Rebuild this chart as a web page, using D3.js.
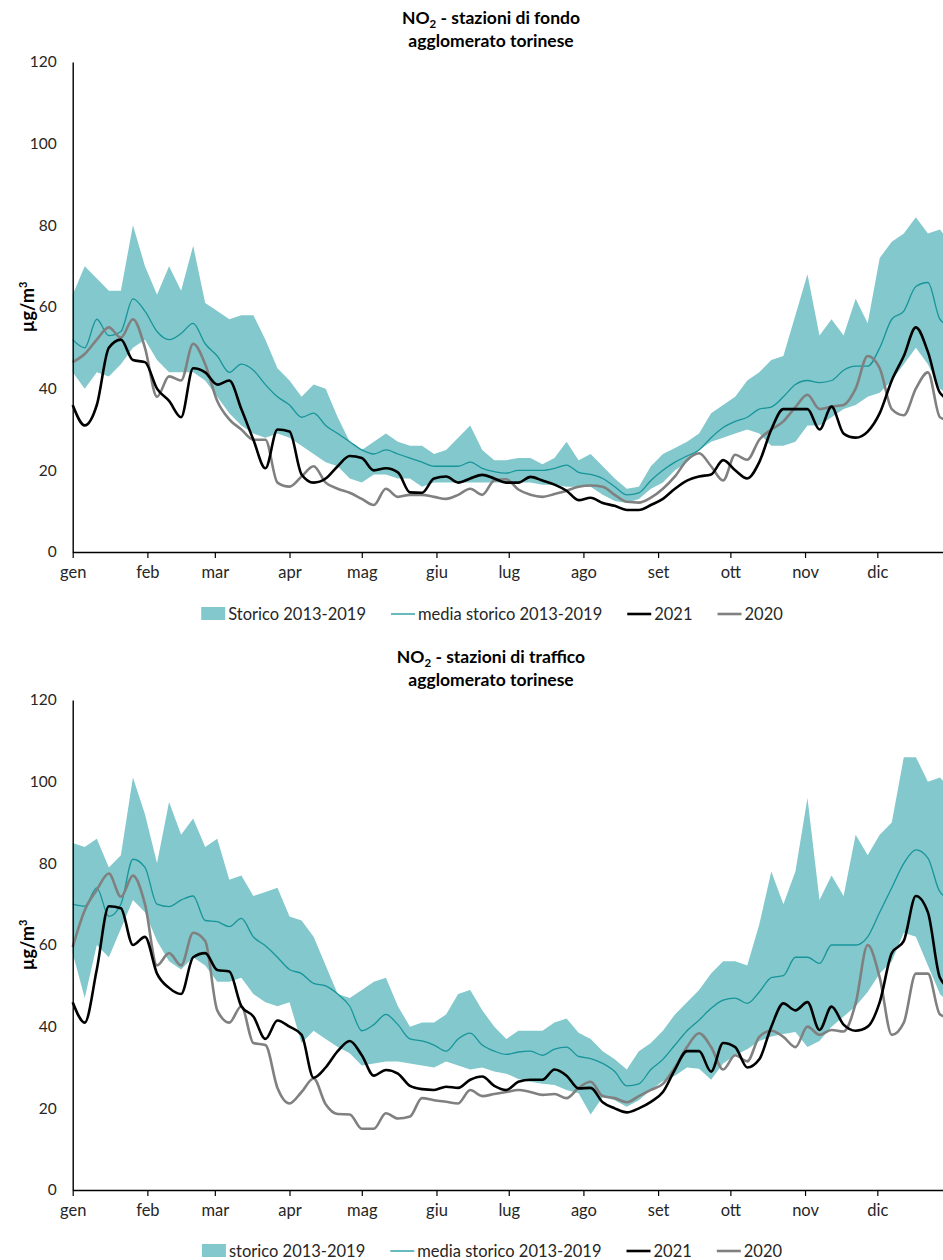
<!DOCTYPE html>
<html>
<head>
<meta charset="utf-8">
<script src="https://cdn.jsdelivr.net/npm/d3@7"></script>
<style>
  body { margin: 0; background: #fff; }
  text { font-family: "Century Gothic", "Lato", sans-serif; }
</style>
</head>
<body>
<div id="chart"></div>
<script>
// day of year, sampled every 5 days
const days = [0,5,10,15,20,25,30,35,40,45,50,55,60,65,70,75,80,85,90,95,
  100,105,110,115,120,125,130,135,140,145,150,155,160,165,170,175,180,185,190,195,
  200,205,210,215,220,225,230,235,240,245,250,255,260,265,270,275,280,285,290,295,
  300,305,310,315,320,325,330,335,340,345,350,355,360,365];

const months = ["gen","feb","mar","apr","mag","giu","lug","ago","set","ott","nov","dic"];
const monthStarts = [0,31,59,90,120,151,181,212,243,273,304,334];
const yTicks = [0,20,40,60,80,100,120];

// ---- stazioni di fondo ----
const fondoHi = [63,70,67,64,64,80,70,63,70,64,75,61,59,57,58,58,52,45,42,38,
  41,40,33,27,25,27,29,27,26,26,24,25,28,31,25,22.5,22.5,23,23,21.5,
  23,27,22.5,24,21,18,15.5,16,21,24,25.5,27,29,34,36,38,42,44,47,48,
  58,68,53,57,53,62,56,72,76,78,82,78,79,75];
const fondoLo = [44,40,44,43,46,50,52,47,44,44,44,42,38,34,31,29,28,29,28,26,
  24,22,21,18,17,19,19,18,18,16,17,17,17,17,17,17,17,17,17,16.5,
  16.5,16,16,16,14,12.5,12,13,15.5,17,20,22,25,27,28,29,30,29,26,26,
  27,31,31,33,35,36,38,39,42,46,50,46,40,38];
const fondoMean = [52,50,57,53,54,62,59,54,52,53.5,56,51,48,44,46,44.5,41,38,36,33,
  34,31,29,27,25,24,25,24,23,22,21,21,21,22,20.5,19.7,19.3,20,20,20,
  20.5,21.3,19.5,19,18,16,14,14.5,17.5,20,22,23.5,25,28,30.5,32,33,35,35.5,38,
  41,42,41.5,42,44.5,45.5,45.5,50,57,59,65,66,57,55];
const fondo2021 = [36,31,36,50,52,47,46.5,40,37,33,45,44,41,42,35,27.5,20.5,30,29.5,19,
  17,18,21,23.5,23,20,20.5,19.5,14.6,14.5,18,18.5,17,18,18.9,18,17,17,18.4,17.5,
  16.5,15,12.7,13.3,12,11.3,10.3,10.3,11.5,13,15.5,17.5,18.5,19,22.5,20,18,22,30,35,
  35,35,30,35.6,29,28,29.5,34,42,48,55,49,39,37];
const fondo2020 = [46.5,48.5,52,55,52.5,57,50,38,43,42,51,46,37,32.5,30,27.5,27.5,17,16,18.5,
  21,17,15.5,14.5,13,11.5,15.5,13.5,14,14,13.5,13,14,15.5,14,17.5,17.8,15.3,14,13.5,
  14.2,15,16,16.3,16,14,12.3,12.1,13.3,15.5,18.5,22.5,24.2,21,17.5,23.8,22.6,27.5,30,32,
  35.5,38.5,35,35.6,36,40,48,45,35,33.5,40,44,33,32];

// ---- stazioni di traffico ----
const traffHi = [85,84,86,79,82,101,92,80,95,87,91,84,86,76,77,72,73,74,67,66,
  62,55,48,47,49,51,52,45,40,41,41,43,48,49,44,40,37,39,39,39,
  41,42,38.5,37,34,32,29.5,34,36,39,43,46,49,53,56,56,55,65,78,70,
  78,96,71,77,72,87,82,87,90,106,106,100,101,98];
const traffLo = [58,47,60,57,64,71,68,61,56,54,57,55,51,51,52,48,46,45,46,36,
  39,37,35,33.5,30.5,31,31.5,31.5,31,30.5,30,31.5,30.5,29.5,30,29,28.5,27.2,26.5,26,
  25.7,24.5,23.7,18.5,22.8,22,20.4,22,24.5,26.7,28,30,29.7,27,31,33,34.5,36.5,37.6,38.2,
  38.7,35,36.5,40,42.5,45,48.5,53,56,63,62,55,48,45];
const traffMean = [70,69.5,74,67,70,81,79,70,69.4,71,72,66,65.7,64.5,66.5,62,59.8,57,54,53,
  50.6,50,48,45,39,40.5,43,40.5,37,36.5,35.5,34,37,38.4,35.5,34,33.2,33.8,34,33,
  34.5,35,32.7,32.2,31,29,25.5,26,29.5,32,35.5,39,41.6,44.5,46.5,47,45.7,48.5,52,52.5,
  57,57,55.5,60,60,60,62,68,74,80,83.3,81.3,73,71];
const traff2021 = [46,41,54,69.5,69,60,62,53,49.5,48,57,58,53.9,53.5,45,42.5,37,41.5,40,38,
  27.5,30,34,36.5,33,28,29.4,28.5,25.5,24.7,24.5,25.3,25,27,27.8,25.5,24.5,26.5,27,27,
  29.5,28,24.9,25,21.5,20,19,20,21.6,24,29.5,34,34,29,36,35,30,32,40,45.7,
  44,46,39.2,44.9,40.5,39,40,46,58,61,72,68,52,49];
const traff2020 = [59.5,68.5,73.5,77.5,71.8,77,70,55,58,55,63,61,44,41,45,36,35.5,25,21.2,24,
  27.3,21,18.6,18.5,15,15,18.8,17.5,18,22.5,22,21.6,21.2,24.5,23,23.5,24,24.5,24,23.3,
  23.5,22.5,25,26.5,23,22.5,21.5,23,24.5,26,30,35,38.4,35,29.5,33,31.5,37.5,39,37.5,
  35,40,38,39.2,38.8,45.7,60,52,38,41,53,53,43,42];

const W = 943, H = 1260;
const svg = d3.select("#chart").append("svg")
  .attr("width", W).attr("height", H);

const x = d3.scaleLinear().domain([0, 365]).range([72.7, 952]);

const colBand = "#82c8cc", colMean = "#17959b", col2021 = "#000000", col2020 = "#808080";

function drawPanel(cfg) {
  const y = d3.scaleLinear().domain([0, 120]).range([cfg.bottom, cfg.top]);
  const g = svg.append("g");

  // band
  const area = d3.area()
    .x((d, i) => x(days[i]))
    .y0((d, i) => y(cfg.lo[i]))
    .y1(d => y(d));
  g.append("path").datum(cfg.hi)
    .attr("d", area).attr("fill", colBand);

  const line = d3.line()
    .x((d, i) => x(days[i]))
    .y(d => y(d))
    .curve(d3.curveMonotoneX);

  g.append("path").datum(cfg.mean)
    .attr("d", line).attr("fill", "none")
    .attr("stroke", colMean).attr("stroke-width", 1.3);
  g.append("path").datum(cfg.y2020)
    .attr("d", line).attr("fill", "none")
    .attr("stroke", col2020).attr("stroke-width", 2.6).attr("stroke-linejoin", "round");
  g.append("path").datum(cfg.y2021)
    .attr("d", line).attr("fill", "none")
    .attr("stroke", col2021).attr("stroke-width", 2.6).attr("stroke-linejoin", "round");

  // axes
  const xAxis = g.append("g")
    .attr("transform", `translate(0,${cfg.bottom})`)
    .call(d3.axisBottom(x).tickValues(monthStarts)
      .tickFormat((d, i) => months[i]).tickSizeInner(6).tickSizeOuter(0).tickPadding(8));
  xAxis.select(".domain").attr("stroke", "#000").attr("stroke-width", 1.4);
  xAxis.selectAll(".tick line").attr("stroke", "#000").attr("stroke-width", 1.2);
  xAxis.selectAll("text").attr("font-size", 16.5).attr("fill", "#262626");

  const yAxis = g.append("g")
    .attr("transform", `translate(${x(0)},0)`)
    .call(d3.axisLeft(y).tickValues(yTicks).tickSize(0).tickPadding(16));
  yAxis.select(".domain").attr("stroke", "#000").attr("stroke-width", 1.4);
  yAxis.selectAll("text").attr("font-size", 15.5).attr("fill", "#262626");

  // y title
  const ty = svg.append("text")
    .attr("transform", `translate(34,${(cfg.top + cfg.bottom) / 2}) rotate(-90)`)
    .attr("text-anchor", "middle")
    .attr("font-size", 18).attr("font-weight", "bold").attr("fill", "#000");
  ty.append("tspan").text("µg/m");
  ty.append("tspan").text("3").attr("font-size", 11).attr("dy", -7);

  // title (two lines)
  const t1 = svg.append("text")
    .attr("x", 491).attr("y", cfg.titleY)
    .attr("text-anchor", "middle")
    .attr("font-size", 17.5).attr("font-weight", "bold");
  t1.append("tspan").text("NO");
  t1.append("tspan").text("2").attr("font-size", 11.5).attr("dy", 4);
  t1.append("tspan").text(" - " + cfg.title1).attr("dy", -4);
  svg.append("text")
    .attr("x", 491).attr("y", cfg.titleY + 23)
    .attr("text-anchor", "middle")
    .attr("font-size", 17.5).attr("font-weight", "bold")
    .text("agglomerato torinese");

  // legend
  const items = [
    { label: cfg.bandLabel, kind: "band" },
    { label: "media storico 2013-2019", kind: "mean" },
    { label: "2021", kind: "y2021" },
    { label: "2020", kind: "y2020" }
  ];
  const lg = svg.append("g");
  let cx = 0;
  items.forEach(it => {
    const ig = lg.append("g").attr("transform", `translate(${cx},0)`);
    if (it.kind === "band") {
      ig.append("rect").attr("x", 0).attr("y", -7).attr("width", 24).attr("height", 13)
        .attr("fill", colBand);
    } else {
      ig.append("line").attr("x1", 0).attr("x2", 24).attr("y1", 0).attr("y2", 0)
        .attr("stroke", it.kind === "mean" ? colMean : it.kind === "y2021" ? col2021 : col2020)
        .attr("stroke-width", it.kind === "mean" ? 1.3 : 2.6);
    }
    const tx = ig.append("text").attr("x", 27).attr("y", 6)
      .attr("font-size", 16.5).attr("fill", "#262626").text(it.label);
    cx += 27 + tx.node().getComputedTextLength() + 25;
  });
  const lw = cx - 25;
  lg.attr("transform", `translate(${492 - lw / 2},${cfg.legendY})`);
}

drawPanel({
  top: 62, bottom: 552, titleY: 24, legendY: 614,
  title1: "stazioni di fondo", bandLabel: "Storico 2013-2019",
  hi: fondoHi, lo: fondoLo, mean: fondoMean, y2021: fondo2021, y2020: fondo2020
});
drawPanel({
  top: 700, bottom: 1190, titleY: 663, legendY: 1251,
  title1: "stazioni di traffico", bandLabel: "storico 2013-2019",
  hi: traffHi, lo: traffLo, mean: traffMean, y2021: traff2021, y2020: traff2020
});
</script>
</body>
</html>
